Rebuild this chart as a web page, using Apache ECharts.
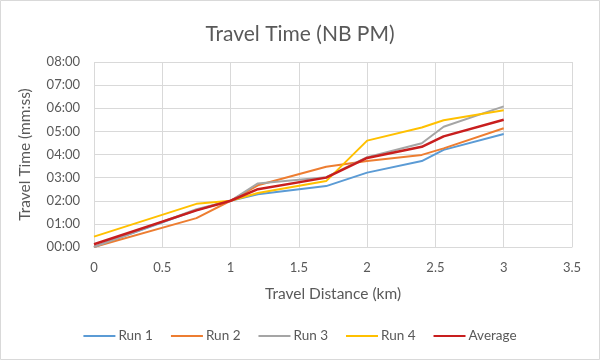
<!DOCTYPE html>
<html>
<head>
<meta charset="utf-8">
<script src="https://cdn.jsdelivr.net/npm/echarts@6/dist/echarts.min.js"></script>
<style>html,body{margin:0;padding:0;background:#fff}#c{width:600px;height:360px}</style>
</head>
<body>
<div id="c"></div>
<script>
// distances (km)
var distances = [0, 0.75, 1, 1.2, 1.7, 2, 2.4, 2.56, 3];
// travel times in seconds
var run1 = [0, 96, 120, 137, 158, 193, 223, 252, 293];
var run2 = [0, 75, 120, 160, 208, 223, 239, 256, 308];
var run3 = [0, 98, 120, 165, 181, 233, 269, 312, 365];
var run4 = [27, 112, 120, 140, 171, 276, 310, 329, 355];
var average = [7, 95, 120, 150, 180, 231, 260, 287, 330];
var seriesNames = ['Run 1', 'Run 2', 'Run 3', 'Run 4', 'Average'];
var seriesColors = ['#5B9BD5', '#ED7D31', '#A5A5A5', '#FFC000', '#C81E1E'];
var seriesData = [run1, run2, run3, run4, average];

function pad(n){ return (n < 10 ? '0' : '') + n; }
function mmss(v){ var m = Math.floor(v / 60), s = Math.round(v - m * 60); return pad(m) + ':' + pad(s); }

var FONT = 'Lato';
var TXT = '#595959';
var GRID = '#d9d9d9';

var chart = echarts.init(document.getElementById('c'));
var series = seriesNames.map(function(name, i){
  return {
    name: name,
    type: 'line',
    showSymbol: false,
    symbol: 'none',
    data: distances.map(function(d, j){ return [d, seriesData[i][j]]; }),
    lineStyle: { width: i === 4 ? 2.5 : 2, color: seriesColors[i] },
    itemStyle: { color: seriesColors[i] },
    z: i === 4 ? 5 : 3
  };
});

chart.setOption({
  animation: false,
  backgroundColor: '#fff',
  graphic: [{ type: 'rect', shape: { x: 0.5, y: 0.5, width: 599, height: 359 }, style: { fill: 'none', stroke: GRID, lineWidth: 1 }, silent: true }],
  title: {
    text: 'Travel Time (NB PM)',
    left: 'center',
    top: 19,
    textStyle: { fontFamily: FONT, fontSize: 21, fontWeight: 'normal', color: TXT }
  },
  legend: {
    data: seriesNames,
    bottom: 12,
    left: 'center',
    icon: 'rect',
    itemWidth: 32,
    itemHeight: 2,
    itemGap: 18,
    textStyle: { fontFamily: FONT, fontSize: 13.5, color: TXT, padding: [0, 0, 0, -2] }
  },
  grid: { left: 94, right: 28, top: 62, bottom: 113, containLabel: false },
  xAxis: {
    type: 'value',
    min: 0, max: 3.5, interval: 0.5,
    name: 'Travel Distance (km)',
    nameLocation: 'middle',
    nameGap: 39,
    nameTextStyle: { fontFamily: FONT, fontSize: 15.5, color: TXT },
    axisLine: { show: true, lineStyle: { color: GRID } },
    axisTick: { show: false },
    axisLabel: { fontFamily: FONT, fontSize: 13, color: TXT, margin: 14 },
    splitLine: { show: true, lineStyle: { color: GRID, width: 1 } }
  },
  yAxis: {
    type: 'value',
    min: 0, max: 480, interval: 60,
    name: 'Travel Time (mm:ss)',
    nameLocation: 'middle',
    nameGap: 61,
    nameTextStyle: { fontFamily: FONT, fontSize: 15.5, color: TXT },
    axisLine: { show: false },
    axisTick: { show: false },
    axisLabel: { fontFamily: FONT, fontSize: 13, color: TXT, margin: 14, formatter: mmss },
    splitLine: { show: true, lineStyle: { color: GRID, width: 1 } }
  },
  series: series
});
</script>
</body>
</html>
